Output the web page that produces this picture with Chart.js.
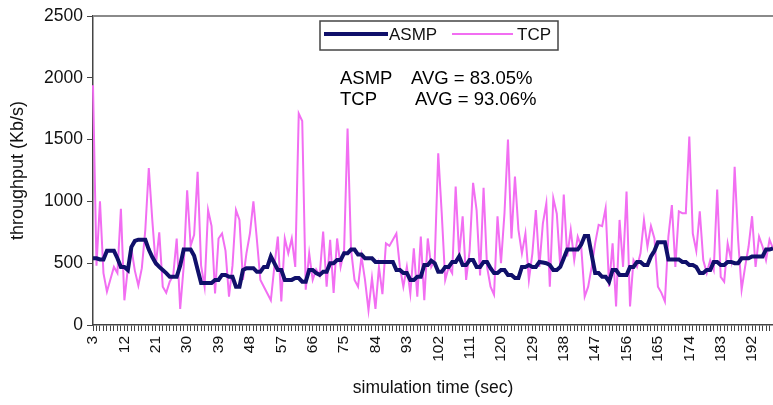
<!DOCTYPE html>
<html><head><meta charset="utf-8">
<script src="https://cdn.jsdelivr.net/npm/chart.js@4/dist/chart.umd.min.js"></script>
<style>html,body{margin:0;padding:0;background:#fff}canvas{display:block}</style>
</head><body>
<canvas id="c" width="773" height="405"></canvas>
<script>
const seconds = [
  3,4,5,6,7,8,9,10,11,12,
  13,14,15,16,17,18,19,20,21,22,
  23,24,25,26,27,28,29,30,31,32,
  33,34,35,36,37,38,39,40,41,42,
  43,44,45,46,47,48,49,50,51,52,
  53,54,55,56,57,58,59,60,61,62,
  63,64,65,66,67,68,69,70,71,72,
  73,74,75,76,77,78,79,80,81,82,
  83,84,85,86,87,88,89,90,91,92,
  93,94,95,96,97,98,99,100,101,102,
  103,104,105,106,107,108,109,110,111,112,
  113,114,115,116,117,118,119,120,121,122,
  123,124,125,126,127,128,129,130,131,132,
  133,134,135,136,137,138,139,140,141,142,
  143,144,145,146,147,148,149,150,151,152,
  153,154,155,156,157,158,159,160,161,162,
  163,164,165,166,167,168,169,170,171,172,
  173,174,175,176,177,178,179,180,181,182,
  183,184,185,186,187,188,189,190,191,192,
  193,194,195,196,197,198
];
const tcp = [
  1940,480,1000,420,270,370,470,420,940,200,
  460,620,440,320,460,770,1270,850,480,750,
  310,260,350,400,700,130,470,1090,640,730,
  1240,480,310,930,800,255,700,740,600,230,
  480,930,850,365,580,740,1000,690,365,310,
  255,200,470,715,190,700,580,700,470,1710,
  1650,285,580,365,450,400,755,310,690,260,
  700,470,600,1590,610,365,310,555,365,120,
  380,130,470,250,660,640,690,740,470,310,
  470,255,620,230,715,200,700,470,525,1390,
  905,365,470,420,1120,560,880,365,600,1150,
  930,400,1110,470,310,245,880,500,905,1500,
  700,1200,770,580,740,365,580,930,470,820,
  985,310,1025,900,470,1055,555,770,525,715,
  635,230,310,470,660,810,800,945,310,660,
  150,850,470,1080,150,525,470,580,850,635,
  800,700,310,260,190,715,970,470,920,905,
  905,1525,740,600,920,525,420,525,445,1095,
  390,350,660,525,1280,690,285,470,635,880,
  470,715,635,525,690,620
];
const asmp = [
  540,540,530,530,600,600,600,540,470,470,
  445,630,680,690,690,690,610,550,500,470,
  445,420,390,390,390,480,610,610,610,560,
  450,340,340,340,340,365,365,405,405,390,
  390,310,310,445,460,460,460,430,430,470,
  470,555,500,445,445,365,365,365,380,380,
  350,350,445,445,420,405,430,430,500,500,
  525,525,580,580,610,610,570,570,540,540,
  540,510,510,510,510,510,510,445,445,420,
  420,365,365,390,390,485,485,520,500,430,
  430,470,470,510,510,555,485,485,525,525,
  470,470,510,510,460,420,420,445,445,405,
  405,380,380,470,470,485,470,470,510,505,
  500,485,445,445,470,540,610,610,610,610,
  650,720,720,570,420,420,390,390,350,445,
  445,405,405,405,470,470,510,510,485,485,
  555,600,670,670,670,530,530,530,530,510,
  510,485,485,470,420,420,445,445,510,510,
  485,485,510,510,500,500,540,540,540,555,
  555,555,555,610,610,620
];
const xTickLabels = [3,12,21,30,39,48,57,66,75,84,93,102,111,120,129,138,147,156,165,174,183,192];
const yTickValues = [0,500,1000,1500,2000,2500];
const seriesNames = ['ASMP','TCP'];
const avgNames = ['ASMP','TCP'];
const avgTexts = ['AVG = 83.05%','AVG = 93.06%'];
const xTitle = 'simulation time (sec)';
const yTitle = 'throughput (Kb/s)';

const FONT = "'Liberation Sans', Arial, sans-serif";
const ASMP_COLOR = '#10106a';
const TCP_COLOR = '#f26ef2';

const overlay = {
  id: 'overlay',
  afterDraw(chart) {
    const ctx = chart.ctx;
    const a = chart.chartArea;
    ctx.save();
    ctx.strokeStyle = '#8a8a8a';
    ctx.lineWidth = 2;
    ctx.beginPath(); ctx.moveTo(a.left, a.top); ctx.lineTo(a.right, a.top); ctx.stroke();
    ctx.fillStyle = '#fff';
    ctx.fillRect(320, 21, 238, 29);
    ctx.strokeStyle = '#444';
    ctx.lineWidth = 1.5;
    ctx.strokeRect(320, 21, 238, 29);
    const ds = chart.data.datasets;
    ctx.font = '17px ' + FONT;
    ctx.textBaseline = 'alphabetic';
    ctx.fillStyle = '#111';
    ctx.strokeStyle = ds[0].borderColor; ctx.lineWidth = 4; ctx.setLineDash([]);
    ctx.beginPath(); ctx.moveTo(324, 34); ctx.lineTo(388, 34); ctx.stroke();
    ctx.fillText(ds[0].label, 389, 40);
    ctx.strokeStyle = ds[1].borderColor; ctx.lineWidth = 2;
    ctx.beginPath(); ctx.moveTo(452, 34); ctx.lineTo(513, 34); ctx.stroke();
    ctx.fillText(ds[1].label, 517, 40);
    ctx.font = '18.5px ' + FONT;
    ctx.fillStyle = '#000';
    ctx.fillText(avgNames[0], 340, 84);
    ctx.fillText(avgTexts[0], 411, 84);
    ctx.fillText(avgNames[1], 340, 105);
    ctx.fillText(avgTexts[1], 415, 105);
    ctx.restore();
  }
};

new Chart(document.getElementById('c'), {
  type: 'line',
  data: {
    labels: seconds,
    datasets: [
      { label: seriesNames[0], data: asmp, borderColor: ASMP_COLOR, borderWidth: 4,
        pointRadius: 0, tension: 0, fill: false, order: 0 },
      { label: seriesNames[1], data: tcp, borderColor: TCP_COLOR, borderWidth: 2,
        pointRadius: 0, tension: 0, fill: false, order: 1 }
    ]
  },
  options: {
    responsive: false,
    animation: false,
    devicePixelRatio: 1,
    layout: { padding: { top: 16, right: 0, left: 0, bottom: 0 } },
    plugins: { legend: { display: false }, tooltip: { enabled: false }, title: { display: false } },
    scales: {
      x: {
        type: 'category',
        offset: false,
        grid: { display: true, drawOnChartArea: false, drawTicks: true, tickLength: 6, color: '#444', lineWidth: 1 },
        border: { display: true, color: '#444', width: 1.5 },
        ticks: {
          autoSkip: false, maxRotation: 90, minRotation: 90, padding: 5,
          color: '#111', font: { size: 15.5, family: FONT },
          callback: function(val, idx) { const s = seconds[idx]; return xTickLabels.includes(s) ? String(s) : ''; }
        },
        title: { display: true, text: xTitle, color: '#111', font: { size: 17.5, family: FONT }, padding: { top: 0, bottom: 6 } },
        afterFit(scale) { scale.height = 80; scale.paddingLeft = 0; scale.paddingRight = 0; }
      },
      y: {
        type: 'linear', min: 0, max: 2500,
        afterBuildTicks(scale) { scale.ticks = yTickValues.map(v => ({ value: v })); },
        grid: { display: true, drawOnChartArea: false, drawTicks: true, tickLength: 6, color: '#444' },
        border: { display: true, color: '#444', width: 1.5 },
        ticks: { padding: 4, color: '#111', font: { size: 17.5, family: FONT },
          callback: function(v) { return String(v); } },
        title: { display: true, text: yTitle, color: '#111', font: { size: 18, family: FONT }, padding: { top: 7, bottom: 0 } },
        afterFit(scale) { scale.width = 93; scale.paddingTop = 0; scale.paddingBottom = 0; }
      }
    }
  },
  plugins: [overlay]
});
</script>
</body></html>
